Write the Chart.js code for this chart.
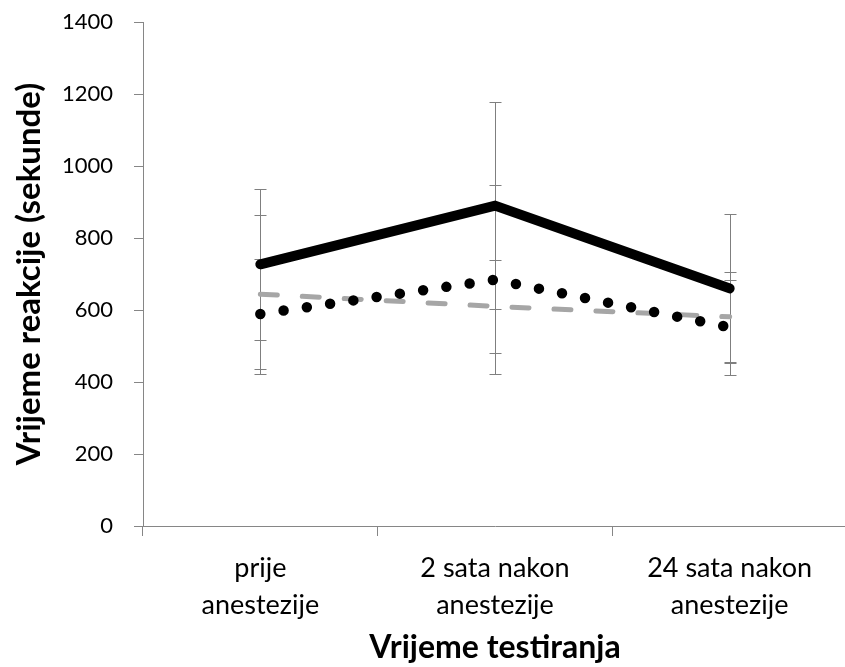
<!DOCTYPE html>
<html><head><meta charset="utf-8">
<script src="https://cdn.jsdelivr.net/npm/chart.js@4/dist/chart.umd.min.js"></script>
<style>html,body{margin:0;padding:0;background:#fff;overflow:hidden}
#wrap{position:relative;width:847px;height:667px}</style></head>
<body><div id="wrap"><canvas id="c"></canvas></div>
<script>
const categories = [['prije','anestezije'],['2 sata nakon','anestezije'],['24 sata nakon','anestezije']];
const yTicks = [0,200,400,600,800,1000,1200,1400];
const solidValues = [727, 890, 660];
const solidErrors = [210, 288, 206];
const dashedValues = [644, 610, 581];
const dashedErrors = [221, 129, 125];
const dottedValues = [589, 684, 552];
const dottedErrors = [153, 263, 132];
const xTitle = 'Vrijeme testiranja';
const yTitle = 'Vrijeme reakcije (sekunde)';

const AXIS = '#868686';
const FONT = 'Lato';

const errorBars = {
  id: 'errorBars',
  beforeDatasetsDraw(chart) {
    const ctx = chart.ctx, xs = chart.scales.x, ys = chart.scales.y;
    ctx.save();
    ctx.strokeStyle = '#7f7f7f';
    ctx.lineWidth = 1;
    chart.data.datasets.forEach(ds => {
      (ds.errors || []).forEach((e, i) => {
        const v = ds.data[i];
        const x = Math.round(xs.getPixelForValue(i)) + 0.5;
        const yt = Math.round(ys.getPixelForValue(v + e)) + 0.5;
        const yb = Math.round(ys.getPixelForValue(v - e)) + 0.5;
        ctx.beginPath();
        ctx.moveTo(x, yt); ctx.lineTo(x, yb);
        ctx.moveTo(x - 6, yt); ctx.lineTo(x + 6, yt);
        ctx.moveTo(x - 6, yb); ctx.lineTo(x + 6, yb);
        ctx.stroke();
      });
    });
    ctx.restore();
  }
};

new Chart(document.getElementById('c'), {
  type: 'line',
  data: {
    labels: categories,
    datasets: [
      { data: solidValues, errors: solidErrors, borderColor: '#000', borderWidth: 10,
        borderCapStyle: 'round', borderJoinStyle: 'miter', pointRadius: 0, tension: 0, fill: false },
      { data: dottedValues, errors: dottedErrors, borderColor: '#000', borderWidth: 10.5,
        borderCapStyle: 'round', borderDash: [0, 23.5], pointRadius: 0, tension: 0, fill: false },
      { data: dashedValues, errors: dashedErrors, borderColor: '#a6a6a6', borderWidth: 5,
        borderCapStyle: 'round', borderDash: [17, 25], pointRadius: 0, tension: 0, fill: false }
    ]
  },
  options: {
    responsive: true, maintainAspectRatio: false, animation: false,
    layout: { padding: { top: 22, right: 0, bottom: 0, left: 0 } },
    plugins: { legend: { display: false }, tooltip: { enabled: false } },
    scales: {
      x: {
        offset: true,
        grid: { offset: true, drawOnChartArea: false, drawTicks: true, tickLength: 10, color: AXIS },
        border: { color: AXIS, width: 1 },
        ticks: { color: '#000', font: { family: FONT, size: 27, lineHeight: 1.37 }, padding: 14, maxRotation: 0 },
        title: { display: true, text: xTitle, color: '#000', font: { family: FONT, size: 32, weight: 'bold' }, padding: { top: 0, bottom: 0 } },
        afterFit: s => { s.height = 141; s.paddingLeft = 0; s.paddingRight = 0; }
      },
      y: {
        min: 0, max: 1400,
        afterBuildTicks: s => { s.ticks = yTicks.map(v => ({ value: v })); },
        grid: { drawOnChartArea: false, drawTicks: true, tickLength: 9, color: AXIS },
        border: { color: AXIS, width: 1 },
        ticks: { color: '#000', font: { family: FONT, size: 22 }, padding: 21, callback: v => String(v) },
        title: { display: true, text: yTitle, color: '#000', font: { family: FONT, size: 33, weight: 'bold' }, padding: { top: 10, bottom: 0 } },
        afterFit: s => { s.width = 143; s.paddingTop = 0; s.paddingBottom = 0; }
      }
    }
  },
  plugins: [errorBars]
});
</script></body></html>
